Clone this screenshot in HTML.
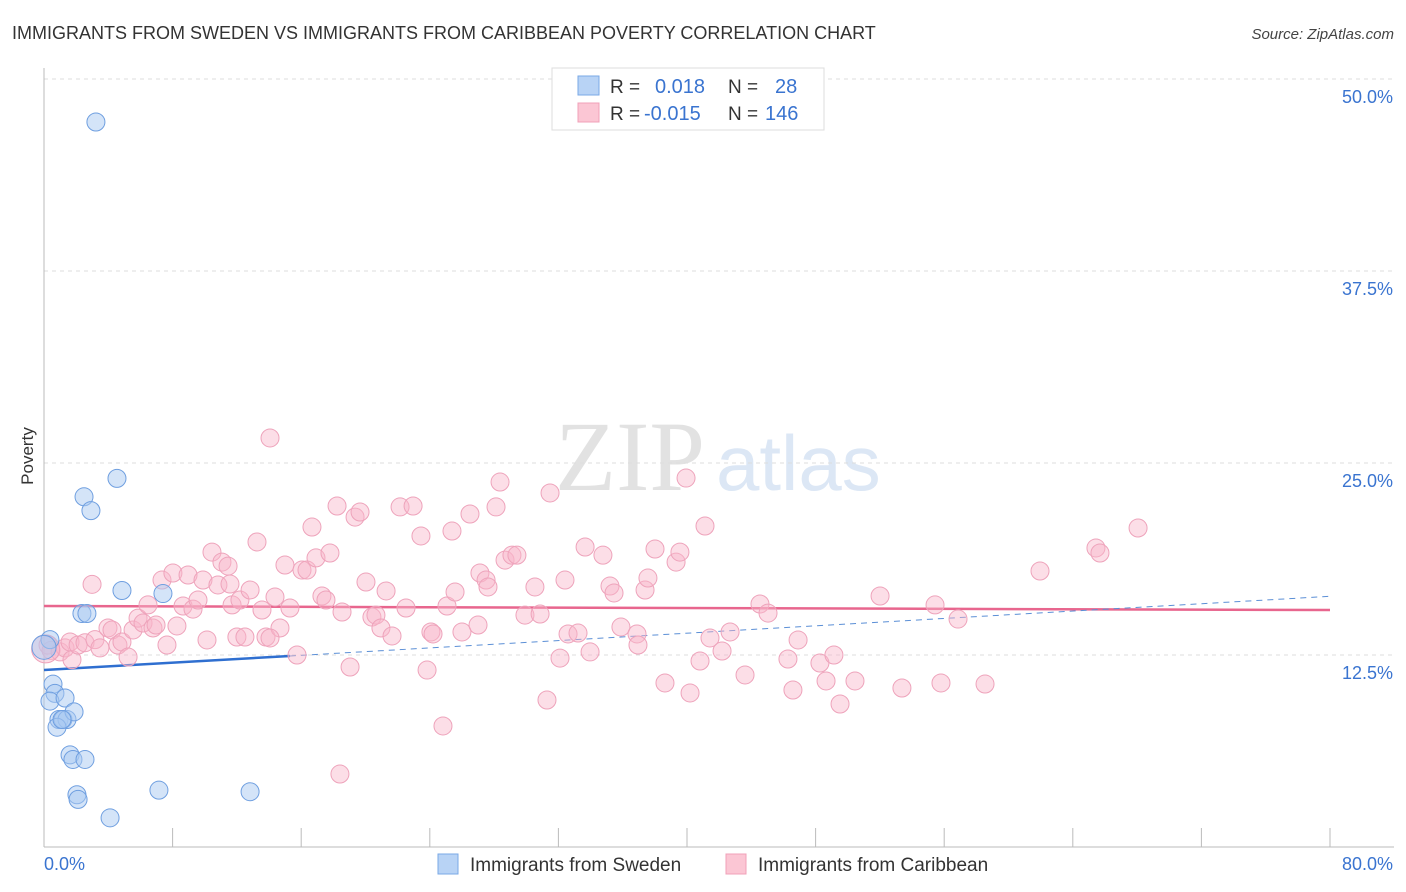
<!DOCTYPE html>
<html><head><meta charset="utf-8"><style>
body{margin:0;background:#fff;font-family:"Liberation Sans",sans-serif;}
svg{display:block}
</style></head><body>
<svg id="chart" width="1406" height="892" viewBox="0 0 1406 892" xmlns="http://www.w3.org/2000/svg">
<text x="12" y="39" font-size="18" fill="#333" font-family="Liberation Sans, sans-serif">IMMIGRANTS FROM SWEDEN VS IMMIGRANTS FROM CARIBBEAN POVERTY CORRELATION CHART</text>
<text x="1394" y="39" font-size="15" fill="#444" font-style="italic" text-anchor="end">Source: ZipAtlas.com</text>
<g>
<text x="555" y="490" font-family="Liberation Serif, serif" font-size="100" fill="#e2e2e2">ZIP</text>
<text x="716" y="490" font-family="Liberation Sans, sans-serif" font-size="78" fill="#dce7f5">atlas</text>
</g>
<g id="grid"></g>
<g id="axes"></g>
<g id="lines"></g>
<g id="points"></g>
<text transform="translate(33,456) rotate(-90)" font-size="17" fill="#333" text-anchor="middle">Poverty</text>
<g>
<rect x="552" y="68" width="272" height="62" fill="#fff" stroke="#ddd"/>
<rect x="578" y="76" width="21" height="19" fill="#b8d3f5" stroke="#7aa8e6"/>
<rect x="578" y="103" width="21" height="19" fill="#fbc6d4" stroke="#f0a0b8"/>
<text x="610" y="93" font-size="19" fill="#333">R =</text>
<text x="655" y="93" font-size="20" fill="#3a74d0">0.018</text>
<text x="728" y="93" font-size="19" fill="#333">N =</text>
<text x="775" y="93" font-size="20" fill="#3a74d0">28</text>
<text x="610" y="120" font-size="19" fill="#333">R =</text>
<text x="644" y="120" font-size="20" fill="#3a74d0">-0.015</text>
<text x="728" y="120" font-size="19" fill="#333">N =</text>
<text x="765" y="120" font-size="20" fill="#3a74d0">146</text>
</g>
<g>
<rect x="438" y="854" width="20" height="20" fill="#b8d3f5" stroke="#7aa8e6"/>
<text x="470" y="871" font-size="19" fill="#333">Immigrants from Sweden</text>
<rect x="726" y="854" width="20" height="20" fill="#fbc6d4" stroke="#f0a0b8"/>
<text x="758" y="871" font-size="19" fill="#333">Immigrants from Caribbean</text>
</g>
</svg>
<script>
const yTicks=[12.5,25.0,37.5,50.0];
const yTickLabels=["12.5%","25.0%","37.5%","50.0%"];
const xTickCount=10;
const xAxisLabels=["0.0%","80.0%"];
const swedenX=[3.23,2.49,2.92,4.54,4.85,7.40,2.36,2.67,0.37,0.56,0.68,0.37,1.31,0.93,1.18,1.43,1.87,0.81,1.62,1.80,2.55,2.05,2.12,7.15,12.82,4.11,1.12,0];
const swedenY=[47.2,22.8,21.9,24.0,16.7,16.5,15.2,15.2,13.5,10.6,10.0,9.5,9.7,8.3,8.3,8.3,8.8,7.8,6.0,5.7,5.7,3.4,3.1,3.7,3.6,1.9,8.3,13.0];
const caribX=[0.25,0.44,1.0,1.31,1.62,1.74,2.12,2.55,2.99,3.17,3.48,3.98,4.23,4.6,4.85,5.23,5.54,5.85,6.16,6.47,6.78,6.97,7.34,7.65,8.02,8.27,8.65,8.96,9.27,9.58,9.89,10.14,10.45,10.82,11.07,11.45,11.7,12.0,12.19,12.5,12.82,13.25,13.56,13.81,14.06,14.37,14.68,14.99,15.3,15.74,16.05,16.36,16.67,16.92,17.29,17.54,17.79,18.23,18.54,19.04,19.35,19.66,20.03,20.4,20.65,20.96,21.28,21.65,22.15,22.52,22.96,23.45,23.83,24.07,24.2,24.82,25.07,25.38,25.57,26.0,26.5,27.0,27.12,27.5,27.62,28.12,28.37,28.68,29.11,29.42,29.92,30.54,30.86,31.29,31.48,32.1,32.41,32.6,33.22,33.66,33.97,34.77,35.21,35.46,35.89,36.89,36.95,37.39,37.57,38.01,38.63,39.32,39.56,39.94,40.19,40.81,41.12,41.43,42.18,42.68,43.61,44.54,45.04,46.28,46.59,46.91,48.27,48.65,49.14,49.52,50.45,52.01,53.37,55.43,55.8,56.86,58.54,61.96,65.44,65.69,68.06,14.06,11.57,18.41,0.1];
const caribY=[13.15,12.8,12.7,12.96,13.35,12.2,13.15,13.3,17.1,13.5,12.96,14.26,14.13,13.15,13.35,12.37,14.13,14.9,14.58,15.76,14.26,14.45,17.38,13.15,17.84,14.39,15.69,17.71,15.49,16.08,17.38,13.48,19.2,17.06,18.55,18.29,15.76,13.67,16.08,13.67,16.73,19.86,15.43,13.67,26.63,16.28,14.26,18.36,15.56,12.5,18.03,18.03,20.83,18.82,16.34,16.08,19.14,22.2,15.3,11.72,21.48,21.81,17.25,14.97,15.1,14.26,16.67,13.74,22.14,15.56,22.2,20.25,11.52,14.0,13.87,7.88,15.69,20.57,16.6,14.0,21.68,14.45,17.84,17.38,16.93,22.14,23.76,18.68,19.0,19.0,15.1,16.93,15.17,9.57,23.05,12.3,17.38,13.87,13.93,19.53,12.7,19.0,16.99,16.54,14.32,13.87,13.15,16.73,17.51,19.4,10.68,18.55,19.2,24.02,10.03,12.11,20.9,13.61,12.76,14.0,11.2,15.82,15.23,12.24,10.22,13.48,11.98,10.81,12.5,9.31,10.81,16.34,10.35,15.76,10.68,14.84,10.61,17.97,19.47,19.14,20.77,13.61,17.12,4.75,12.9];
const swedenFit=[11.52,0.06];   // intercept, slope (per % x)
const caribFit=[15.69,-0.0033];

const X0=44,X1=1330,Y0=847,Y50=79;
const xs=v=>X0+v/80*(X1-X0);
const ys=v=>Y0-v/50*(Y0-Y50);
const NS="http://www.w3.org/2000/svg";
function mk(tag,attrs,parent){const e=document.createElementNS(NS,tag);for(const k in attrs)e.setAttribute(k,attrs[k]);document.getElementById(parent).appendChild(e);return e;}

yTicks.forEach((t,i)=>{
  const g=mk('line',{x1:X0,x2:1394,y1:ys(t),y2:ys(t),stroke:'#ddd','stroke-dasharray':'4,4'},'grid');
  
  
  const l=mk('text',{x:1393,y:ys(t)+24,'text-anchor':'end','font-size':18,fill:'#3a74d0'},'axes');
  l.textContent=yTickLabels[i];
  
  
});
const ya=mk('line',{x1:X0,x2:X0,y1:68,y2:Y0,stroke:'#bbb'},'axes');


const xa=mk('line',{x1:X0,x2:1394,y1:Y0,y2:Y0,stroke:'#bbb'},'axes');


for(let k=0;k<=xTickCount;k++){
  const v=k*80/xTickCount;
  const t=mk('line',{x1:xs(v),x2:xs(v),y1:828,y2:Y0,stroke:'#bbb'},'axes');
  
  
}
const xl0=mk('text',{x:44,y:870,'font-size':18,fill:'#3a74d0'},'axes');
xl0.textContent=xAxisLabels[0];


const xl1=mk('text',{x:1393,y:870,'font-size':18,fill:'#3a74d0','text-anchor':'end'},'axes');
xl1.textContent=xAxisLabels[1];



// points
caribX.forEach((x,i)=>{
  const c=mk('circle',{cx:xs(x),cy:ys(caribY[i]),r:i===caribX.length-1?14:9,fill:'rgba(249,182,201,0.45)',stroke:'#eea3bb','stroke-width':1},'points');
  
  
});
swedenX.forEach((x,i)=>{
  const c=mk('circle',{cx:xs(x),cy:ys(swedenY[i]),r:i===swedenX.length-1?12:9,fill:'rgba(170,202,242,0.5)',stroke:'#6f9fe0','stroke-width':1},'points');
  
  
});
// trend lines
const fy=(f,x)=>f[0]+f[1]*x;
const cl=mk('line',{x1:xs(0),y1:ys(fy(caribFit,0)),x2:xs(80),y2:ys(fy(caribFit,80)),stroke:'#e8668e','stroke-width':2.5},'lines');


const sd=mk('line',{x1:xs(15.3),y1:ys(fy(swedenFit,15.3)),x2:xs(80),y2:ys(fy(swedenFit,80)),stroke:'#5b8fd6','stroke-width':1,'stroke-dasharray':'6,5'},'lines');


const sl=mk('line',{x1:xs(0),y1:ys(fy(swedenFit,0)),x2:xs(15.3),y2:ys(fy(swedenFit,15.3)),stroke:'#2f6fd0','stroke-width':2.5},'lines');


</script>
</body></html>
